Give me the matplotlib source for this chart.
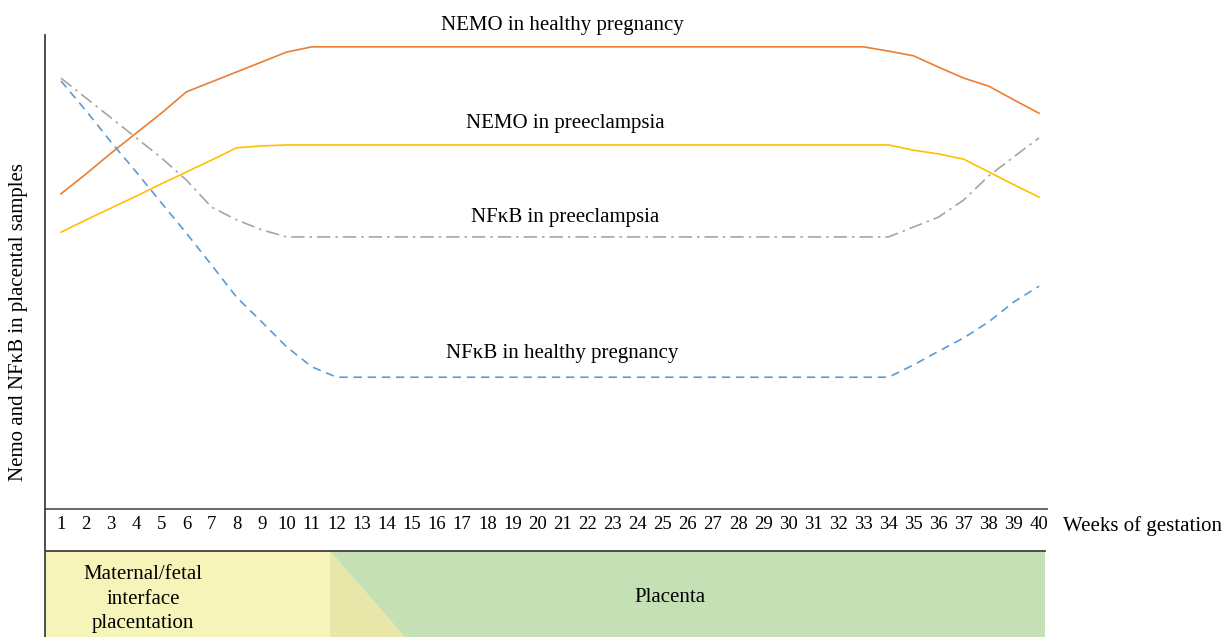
import matplotlib.pyplot as plt
from matplotlib.patches import Polygon
from matplotlib.lines import Line2D
import numpy as np

plt.rcParams['font.family'] = ['Liberation Serif', 'DejaVu Serif']

# Weeks of gestation
weeks = list(range(1, 41))

# Levels (arbitrary units, 0-100)
nemo_healthy = [66.5, 70.7, 75.1, 79.3, 83.5, 88.0, 90.1, 92.2, 94.3, 96.4,
                97.5, 97.5, 97.5, 97.5, 97.5, 97.5, 97.5, 97.5, 97.5, 97.5,
                97.5, 97.5, 97.5, 97.5, 97.5, 97.5, 97.5, 97.5, 97.5, 97.5,
                97.5, 97.5, 97.5, 96.6, 95.6, 93.2, 90.9, 89.2, 86.3, 83.5]
nemo_pre = [58.4, 61.0, 63.5, 66.0, 68.6, 71.1, 73.6, 76.2, 76.6, 76.8,
            76.8, 76.8, 76.8, 76.8, 76.8, 76.8, 76.8, 76.8, 76.8, 76.8,
            76.8, 76.8, 76.8, 76.8, 76.8, 76.8, 76.8, 76.8, 76.8, 76.8,
            76.8, 76.8, 76.8, 76.8, 75.7, 74.9, 73.8, 71.1, 68.4, 65.8]
nfkb_pre = [90.9, 86.7, 82.5, 78.3, 74.1, 69.4, 63.7, 61.0, 58.9, 57.4,
            57.4, 57.4, 57.4, 57.4, 57.4, 57.4, 57.4, 57.4, 57.4, 57.4,
            57.4, 57.4, 57.4, 57.4, 57.4, 57.4, 57.4, 57.4, 57.4, 57.4,
            57.4, 57.4, 57.4, 57.4, 59.5, 61.6, 65.2, 70.3, 74.3, 78.3]
nfkb_healthy = [90.3, 84.0, 77.4, 71.1, 64.6, 58.2, 51.5, 44.7, 39.5, 34.2,
                30.0, 27.8, 27.8, 27.8, 27.8, 27.8, 27.8, 27.8, 27.8, 27.8,
                27.8, 27.8, 27.8, 27.8, 27.8, 27.8, 27.8, 27.8, 27.8, 27.8,
                27.8, 27.8, 27.8, 27.8, 30.4, 33.3, 36.1, 39.5, 43.7, 47.0]

series_labels = ['NEMO in healthy pregnancy', 'NEMO in preeclampsia',
                 'NF\u03baB in preeclampsia', 'NF\u03baB in healthy pregnancy']

# Stage bands (week boundaries)
stage_names = ['Maternal/fetal\ninterface\nplacentation', 'Placenta']
stage_split = 11.73
stage_ramp_end = 14.72
stage_end = 40.24

W, H = 1225, 637
fig = plt.figure(figsize=(W / 100, H / 100), dpi=100)

x_left, x_right = 45, 1047
xlim = (1 - 16 / 25.08, 40 + 8 / 25.08)
fs = 15

# main plot
ax = fig.add_axes([x_left / W, (H - 509) / H, (x_right - x_left) / W, (509 - 35) / H])
ax.set_xlim(*xlim)
ax.set_ylim(0, 100)
for s in ['top', 'right', 'left']:
    ax.spines[s].set_visible(False)
ax.spines['bottom'].set_color('#595959')
ax.spines['bottom'].set_linewidth(1.3)
ax.set_yticks([])
ax.set_xticks(weeks)
ax.set_xticklabels([str(w) for w in weeks], fontsize=13.5)
ax.tick_params(axis='x', length=0, pad=5)

ax.plot(weeks, nemo_healthy, color='#ED7D31', lw=1.2)
ax.plot(weeks, nemo_pre, color='#FFC000', lw=1.2)
ax.plot(weeks, nfkb_pre, color='#A5A5A5', lw=1.2, linestyle=(0, (8, 3, 1.5, 3)))
ax.plot(weeks, nfkb_healthy, color='#5B9BD5', lw=1.2, linestyle=(0, (5, 3.5)))

ax.text(21.0, 102.1, series_labels[0], ha='center', va='center', fontsize=fs, clip_on=False)
ax.text(21.1, 81.4, series_labels[1], ha='center', va='center', fontsize=fs)
ax.text(21.1, 61.4, series_labels[2], ha='center', va='center', fontsize=fs)
ax.text(21.0, 32.9, series_labels[3], ha='center', va='center', fontsize=fs)

# bottom band with stages
ax2 = fig.add_axes([x_left / W, 0, (x_right - x_left) / W, (H - 509) / H])
ax2.set_xlim(*xlim)
ax2.set_ylim(0, H - 509)
ax2.axis('off')
ax2.patch.set_visible(False)
band_top = H - 551
ax2.add_patch(Polygon([(xlim[0], 0), (xlim[0], band_top), (stage_split, band_top),
                       (stage_split, 0)], closed=True, color='#F6F4B8', lw=0))
ax2.add_patch(Polygon([(stage_split, band_top), (stage_ramp_end, 0), (stage_split, 0)],
                      closed=True, color='#E8E7A9', lw=0))
ax2.add_patch(Polygon([(stage_split, band_top), (stage_end, band_top), (stage_end, 0),
                       (stage_ramp_end, 0)], closed=True, color='#C5E0B5', lw=0))
ax2.plot([xlim[0], stage_end], [band_top, band_top], color='#404040', lw=1.3)
ax2.text(4.27, 38, stage_names[0], ha='center', va='center', fontsize=fs, linespacing=1.42)
ax2.text(25.3, 39, stage_names[1], ha='center', va='center', fontsize=fs)

# left axis line running through the whole chart
fig.add_artist(Line2D([x_left / W, x_left / W], [0, (H - 35) / H], color='#404040', lw=1.3))

fig.text(1063 / W, (H - 526) / H, 'Weeks of gestation', ha='left', va='center', fontsize=fs)
fig.text(19 / W, (H - 322) / H, 'Nemo and NF\u03baB in placental samples', rotation=90,
         ha='center', va='center', fontsize=fs)

fig.savefig('out.png', dpi=100)
